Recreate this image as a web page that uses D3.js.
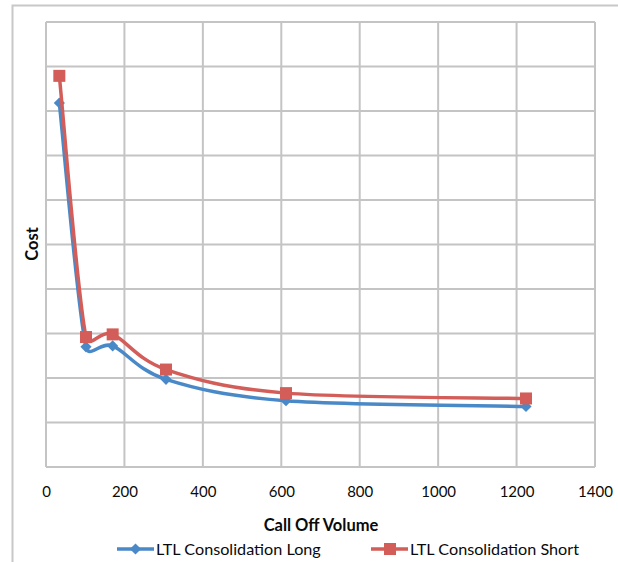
<!DOCTYPE html>
<html>
<head>
<meta charset="utf-8">
<script src="https://cdn.jsdelivr.net/npm/d3@7"></script>
<style>
  html, body { margin: 0; padding: 0; background: #fff; }
  svg { display: block; font-family: Lato, "Open Sans", sans-serif; }
</style>
</head>
<body>
<svg id="chart" width="618" height="562"></svg>
<script>
// Call-off volume on the x axis, unitless cost on the y axis
const volumes = [34, 102, 170, 306, 612, 1224];
const costLong = [8.18, 2.70, 2.72, 1.97, 1.49, 1.36];
const costShort = [8.79, 2.92, 2.98, 2.19, 1.66, 1.54];
const xTicks = [0, 200, 400, 600, 800, 1000, 1200, 1400];
const seriesNames = ["LTL Consolidation Long", "LTL Consolidation Short"];

const svg = d3.select("#chart");
const W = 618, H = 562;
const plot = { left: 46, right: 595, top: 22, bottom: 467 };

const x = d3.scaleLinear().domain([0, 1400]).range([plot.left, plot.right]);
const y = d3.scaleLinear().domain([0, 10]).range([plot.bottom, plot.top]);

const blue = "#4a89c8";
const red = "#d35d58";
const gridColor = "#c4c4c4";
const textColor = "#0a0a0a";

// Spreadsheet-style smoothing: cubic Bezier segments whose control arms are
// one sixth of the neighbour chord, capped at half the segment length.
function curveSmoothCapped(context) {
  let pts;
  return {
    areaStart() {}, areaEnd() {},
    lineStart() { pts = []; },
    point(px, py) { pts.push([+px, +py]); },
    lineEnd() {
      const n = pts.length;
      if (!n) return;
      const P = i => pts[Math.max(0, Math.min(n - 1, i))];
      const dist = (a, b) => Math.hypot(b[0] - a[0], b[1] - a[1]);
      context.moveTo(pts[0][0], pts[0][1]);
      for (let i = 0; i < n - 1; i++) {
        const p0 = P(i - 1), p1 = P(i), p2 = P(i + 1), p3 = P(i + 2);
        const seg = dist(p1, p2);
        let a1 = [(p2[0] - p0[0]) / 6, (p2[1] - p0[1]) / 6];
        let a2 = [(p3[0] - p1[0]) / 6, (p3[1] - p1[1]) / 6];
        const l1 = Math.hypot(a1[0], a1[1]), l2 = Math.hypot(a2[0], a2[1]);
        if (l1 > seg / 2) a1 = a1.map(v => v * seg / 2 / l1);
        if (l2 > seg / 2) a2 = a2.map(v => v * seg / 2 / l2);
        context.bezierCurveTo(p1[0] + a1[0], p1[1] + a1[1],
                              p2[0] - a2[0], p2[1] - a2[1],
                              p2[0], p2[1]);
      }
    }
  };
}

// Chart frame (only top and left edges fall inside the view)
svg.append("path")
  .attr("d", `M12.5,${H} V5.5 H${W}`)
  .attr("fill", "none")
  .attr("stroke", "#c8c8c8")
  .attr("stroke-width", 2);

// Gridlines
const grid = svg.append("g").attr("stroke", gridColor).attr("stroke-width", 2);
grid.selectAll("line.h").data(d3.range(0, 11)).join("line")
  .attr("class", "h")
  .attr("x1", plot.left).attr("x2", plot.right)
  .attr("y1", d => y(d)).attr("y2", d => y(d));
grid.selectAll("line.v").data(xTicks).join("line")
  .attr("class", "v")
  .attr("y1", plot.top).attr("y2", plot.bottom)
  .attr("x1", d => x(d)).attr("x2", d => x(d));

// X axis tick labels
const xAxis = d3.axisBottom(x).tickValues(xTicks).tickFormat(d3.format("d"))
  .tickSize(0).tickPadding(19);
const gx = svg.append("g").attr("transform", `translate(0,${plot.bottom})`).call(xAxis);
gx.select(".domain").remove();
gx.selectAll("text")
  .attr("font-family", "Lato, sans-serif")
  .attr("font-size", 15)
  .attr("fill", textColor);

// Axis titles
svg.append("text")
  .attr("x", 321).attr("y", 531)
  .attr("text-anchor", "middle")
  .attr("font-size", 16.5).attr("font-weight", "bold").attr("fill", textColor)
  .text("Call Off Volume");

svg.append("text")
  .attr("transform", "translate(38,244) rotate(-90)")
  .attr("text-anchor", "middle")
  .attr("font-size", 16.5).attr("font-weight", "bold").attr("fill", textColor)
  .text("Cost");

// Smoothed series lines
const line = d3.line()
  .x(d => x(d[0]))
  .y(d => y(d[1]))
  .curve(curveSmoothCapped);

const longPts = volumes.map((v, i) => [v, costLong[i]]);
const shortPts = volumes.map((v, i) => [v, costShort[i]]);

svg.append("path").datum(longPts)
  .attr("d", line).attr("fill", "none")
  .attr("stroke", blue).attr("stroke-width", 3.5)
  .attr("stroke-linejoin", "round");

svg.append("g").selectAll("path").data(longPts).join("path")
  .attr("d", d3.symbol(d3.symbolDiamond2, 80))
  .attr("transform", d => `translate(${x(d[0])},${y(d[1])})`)
  .attr("fill", blue);

svg.append("path").datum(shortPts)
  .attr("d", line).attr("fill", "none")
  .attr("stroke", red).attr("stroke-width", 3.5)
  .attr("stroke-linejoin", "round");

svg.append("g").selectAll("rect").data(shortPts).join("rect")
  .attr("x", d => x(d[0]) - 6).attr("y", d => y(d[1]) - 6)
  .attr("width", 12).attr("height", 12)
  .attr("fill", red);

// Legend
const legendY = 549;
const lg = svg.append("g");
lg.append("line").attr("x1", 117).attr("x2", 154).attr("y1", legendY).attr("y2", legendY)
  .attr("stroke", blue).attr("stroke-width", 3.5);
lg.append("path").attr("d", d3.symbol(d3.symbolDiamond2, 80))
  .attr("transform", `translate(135.5,${legendY})`).attr("fill", blue);
lg.append("text").attr("x", 156).attr("y", legendY + 5.5)
  .attr("font-size", 16.2).attr("fill", textColor).text(seriesNames[0]);

lg.append("line").attr("x1", 371).attr("x2", 408).attr("y1", legendY).attr("y2", legendY)
  .attr("stroke", red).attr("stroke-width", 3.5);
lg.append("rect").attr("x", 384).attr("y", legendY - 6).attr("width", 12).attr("height", 12)
  .attr("fill", red);
lg.append("text").attr("x", 410).attr("y", legendY + 5.5)
  .attr("font-size", 16.2).attr("fill", textColor).text(seriesNames[1]);
</script>
</body>
</html>
